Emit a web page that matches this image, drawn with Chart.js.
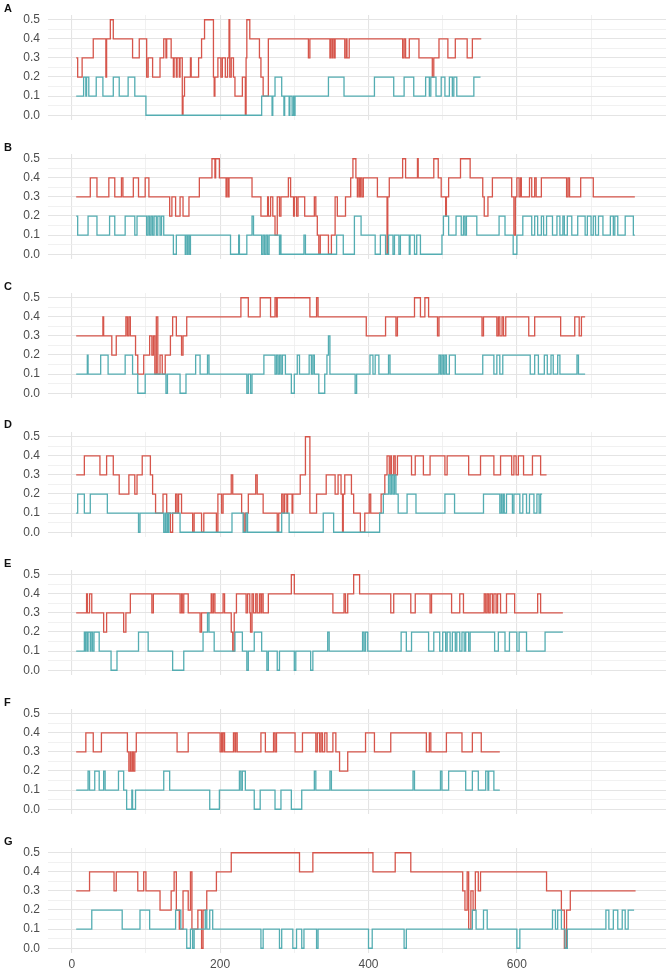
<!DOCTYPE html>
<html><head><meta charset="utf-8">
<script src="https://cdn.jsdelivr.net/npm/chart.js@4.4.1/dist/chart.umd.min.js"></script>
<style>
html,body{margin:0;padding:0;background:#fff;}
body{width:666px;height:974px;overflow:hidden;position:relative;font-family:"Liberation Sans",Arial,sans-serif;}
canvas{position:absolute;left:0;}
.lbl{position:absolute;left:4px;font-weight:bold;font-size:11px;color:#111;}
</style></head><body>
<script>
// ---------------- data (x where a level starts, level); last pair marks the end ----------------
const panelNames = ['A','B','C','D','E','F','G'];
const xTickValues = [0,100,200,300,400,500,600,700];
const xTickLabels = {0:'0',200:'200',400:'400',600:'600'};
const yTickValues = [0,0.05,0.1,0.15,0.2,0.25,0.3,0.35,0.4,0.45,0.5];
const yTickLabels = {0:'0.0',0.1:'0.1',0.2:'0.2',0.3:'0.3',0.4:'0.4',0.5:'0.5'};

const A_red = [[6,.3],[8,.2],[14,.3],[29,.4],[46,.2],[47,.4],[52,.5],[56,.4],[82,.3],[91,.4],[101,.2],[103,.3],[109,.2],[119,.3],[124,.4],[127,.3],[128,.4],[134,.3],[137,.2],[138,.3],[141,.2],[142,.3],[145,.2],[146,.3],[149,0],[150,.1],[152,.2],[160,.3],[161,.2],[171,.3],[175,.4],[179,.5],[191,.2],[192,.1],[193,.2],[197,.3],[201,.2],[203,.3],[207,.2],[210,.3],[212,.5],[213,.2],[215,.3],[218,.2],[220,.1],[230,.2],[234,0],[235,.3],[236,.5],[240,.4],[253,.3],[255,.2],[258,.1],[265,.4],[319,.3],[321,.4],[348,.3],[349,.4],[351,.3],[352,.4],[354,.3],[355,.4],[368,.3],[370,.4],[371,.3],[374,.4],[446,.3],[448,.4],[450,.3],[455,.4],[468,.3],[486,.2],[488,.3],[495,.4],[507,.3],[517,.4],[533,.3],[540,.4],[552,.4]];
const A_teal = [[6,.1],[16,.2],[19,.1],[20,.2],[23,.1],[33,.2],[42,.1],[56,.2],[64,.1],[76,.2],[85,.1],[100,0],[256,.1],[270,0],[271,.1],[274,.2],[283,.1],[286,0],[287,.1],[293,0],[294,.1],[297,0],[299,.1],[300,0],[301,.1],[346,.2],[367,.1],[408,.2],[434,.1],[448,.2],[461,.1],[477,.2],[482,.1],[484,.2],[491,.1],[498,.2],[503,.1],[509,.2],[513,.1],[515,.2],[519,.1],[542,.2],[551,.2]];

const B_red = [[6,.3],[25,.4],[34,.3],[50,.4],[58,.3],[67,.4],[69,.3],[83,.4],[90,.3],[99,.4],[104,.3],[132,.2],[135,.3],[140,.2],[146,.3],[150,.2],[158,.3],[172,.4],[189,.5],[193,.4],[194,.5],[199,.4],[208,.3],[209,.4],[211,.3],[212,.4],[243,.3],[255,.2],[264,.3],[265,.2],[268,.3],[271,.2],[274,.1],[277,.3],[280,.2],[282,.3],[292,.4],[295,.3],[299,.2],[300,.3],[303,.2],[305,.3],[314,.2],[327,.3],[329,.2],[331,.1],[333,0],[335,.1],[346,0],[350,.1],[355,.3],[358,.2],[369,.3],[376,.4],[379,.5],[383,.4],[385,.3],[386,.4],[388,.3],[389,.4],[391,.3],[393,.4],[412,.3],[425,0],[426,.3],[428,.4],[446,.5],[450,.4],[466,.5],[467,.4],[488,.5],[494,.4],[498,.3],[504,.2],[505,.3],[508,.4],[524,.5],[537,.4],[554,.3],[556,.2],[561,.3],[567,.4],[593,.3],[596,.1],[598,.3],[600,.4],[603,.3],[605,.4],[606,.3],[617,.4],[620,.3],[624,.4],[626,.3],[633,.4],[667,.3],[669,.4],[671,.3],[686,.4],[703,.3],[759,.3]];
const B_teal = [[6,.2],[8,.1],[22,.2],[34,.1],[51,.2],[58,.1],[72,.2],[85,.1],[88,.2],[101,.1],[103,.2],[105,.1],[107,.2],[109,.1],[111,.2],[114,.1],[116,.2],[119,.1],[121,.2],[124,.1],[137,0],[141,.1],[153,0],[154,.1],[156,0],[157,.1],[159,0],[160,.1],[214,0],[225,.1],[226,0],[236,.1],[243,.2],[245,.1],[256,0],[258,.1],[260,0],[262,.1],[264,0],[266,.1],[280,0],[281,.1],[282,0],[313,.1],[315,0],[357,.1],[366,0],[381,.2],[390,.1],[409,0],[416,.1],[423,0],[427,.1],[433,0],[435,.1],[441,0],[443,.1],[455,0],[456,.1],[462,0],[465,.1],[470,0],[499,.1],[501,.2],[508,.1],[518,.2],[525,.1],[528,.2],[530,.1],[532,.2],[546,.1],[576,.2],[584,.1],[595,0],[600,.1],[608,.2],[620,.1],[624,.2],[628,.1],[633,.2],[636,.1],[640,.2],[648,.1],[654,.2],[658,.1],[662,.2],[664,.1],[668,.2],[674,.1],[682,.2],[692,.1],[695,.2],[700,.1],[703,.2],[706,.1],[710,.2],[716,.1],[726,.2],[730,.1],[732,.2],[736,.1],[746,.2],[757,.1],[759,.1]];

const C_red = [[6,.3],[42,.4],[43,.3],[54,.2],[60,.3],[73,.4],[75,.3],[77,.4],[79,.3],[86,.2],[89,.1],[97,.2],[105,.3],[108,.2],[110,.3],[112,.1],[114,.4],[116,.1],[119,.2],[122,.1],[126,.2],[133,.3],[136,.4],[141,.3],[148,.2],[150,.3],[155,.4],[228,.5],[238,.4],[254,.5],[268,.4],[274,.5],[276,.4],[277,.5],[321,.4],[330,.5],[332,.4],[397,.3],[423,.4],[437,.3],[439,.4],[462,.5],[470,.4],[476,.5],[481,.4],[493,.3],[495,.4],[553,.3],[555,.4],[573,.3],[575,.4],[577,.3],[580,.4],[582,.3],[585,.4],[616,.3],[624,.4],[659,.3],[678,.4],[684,.3],[687,.4],[692,.4]];
const C_teal = [[6,.1],[21,.2],[22,.1],[39,.2],[49,.1],[72,.2],[82,.1],[89,0],[99,.1],[127,0],[129,.1],[146,0],[154,.1],[167,.2],[173,.1],[183,.2],[185,.1],[236,0],[238,.1],[241,0],[243,.1],[259,.2],[274,.1],[276,.2],[278,.1],[280,.2],[282,.1],[284,.2],[288,.1],[296,0],[300,.1],[304,.2],[307,.1],[320,.2],[323,.1],[325,.2],[327,.1],[333,0],[341,.1],[344,.2],[346,.3],[348,.1],[382,0],[384,.1],[402,.2],[406,.1],[409,.2],[414,.1],[427,.2],[429,.1],[495,.2],[497,.1],[499,.2],[501,.1],[503,.2],[505,.1],[509,.2],[517,.1],[554,.2],[569,.1],[573,.2],[577,.1],[581,.2],[618,.1],[624,.2],[629,.1],[637,.2],[641,.1],[646,.2],[649,.1],[655,.2],[658,.1],[681,.2],[683,.1],[692,.1]];

const D_red = [[6,.3],[17,.4],[38,.3],[47,.4],[56,.3],[64,.2],[77,.3],[85,.2],[88,.3],[95,.4],[106,.3],[109,.2],[113,.1],[123,.2],[128,.1],[133,0],[136,.1],[140,.2],[142,.1],[144,.2],[148,.1],[163,0],[165,.1],[175,0],[178,.1],[195,0],[197,.2],[202,.1],[204,.2],[215,.3],[217,.2],[229,.1],[232,0],[234,.1],[238,.2],[248,.3],[250,.2],[258,.1],[277,0],[279,.1],[283,.2],[285,.1],[287,.2],[290,.1],[291,.2],[297,.1],[298,.2],[308,.3],[315,.5],[321,.1],[330,.2],[343,.3],[355,.2],[359,.3],[363,.2],[365,0],[366,.2],[368,.3],[377,.2],[380,.1],[389,0],[395,.1],[401,.2],[403,.1],[417,.2],[422,.3],[425,.4],[428,.3],[430,.4],[431,.3],[434,.4],[436,.3],[439,.4],[458,.3],[463,.4],[474,.3],[483,.4],[503,.3],[506,.4],[535,.3],[551,.4],[569,.3],[578,.4],[593,.3],[596,.4],[599,.3],[602,.4],[609,.3],[621,.4],[632,.3],[640,.3]];
const D_teal = [[6,.1],[8,.2],[17,.1],[25,.2],[48,.1],[90,0],[92,.1],[124,0],[126,.1],[127,0],[129,.1],[130,0],[131,.1],[146,0],[216,.1],[231,0],[235,.1],[237,0],[283,.1],[293,0],[339,.1],[353,0],[415,.1],[420,.2],[427,.3],[429,.2],[431,.3],[433,.2],[435,.3],[437,.2],[440,.1],[452,.2],[464,.1],[503,.2],[516,.1],[555,.2],[577,.1],[579,.2],[580,.1],[582,.2],[583,.1],[586,.2],[594,.1],[596,.2],[604,.1],[608,.2],[613,.1],[617,.2],[623,.1],[627,.2],[630,.1],[632,.2],[634,.2]];

const E_red = [[6,.3],[20,.4],[21,.3],[24,.4],[27,.3],[43,.2],[47,.3],[70,.2],[73,.3],[79,.4],[108,.3],[110,.4],[146,.3],[148,.4],[149,.3],[151,.4],[157,.3],[173,.2],[175,.3],[188,.4],[189,.3],[191,.4],[193,.3],[204,.4],[206,.3],[215,.2],[217,.1],[219,.3],[222,.4],[235,.3],[237,.4],[240,.3],[241,.2],[243,.4],[245,.3],[248,.4],[250,.3],[253,.4],[255,.3],[256,.4],[258,.3],[265,.4],[296,.5],[300,.4],[352,.3],[367,.4],[369,.3],[372,.4],[380,.5],[388,.4],[430,.3],[434,.4],[457,.3],[463,.4],[483,.3],[485,.4],[512,.3],[523,.4],[528,.3],[556,.4],[558,.3],[560,.4],[562,.3],[564,.4],[567,.3],[569,.4],[572,.3],[574,.4],[578,.3],[586,.4],[597,.3],[628,.4],[632,.3],[662,.3]];
const E_teal = [[6,.1],[17,.2],[18,.1],[19,.2],[21,.1],[22,.2],[25,.1],[26,.2],[28,.1],[30,.2],[37,.1],[53,0],[61,.1],[90,.2],[103,.1],[136,0],[151,.1],[177,.2],[183,.3],[185,.2],[192,.1],[220,.2],[230,.1],[236,0],[238,.1],[246,.2],[256,.1],[263,0],[265,.1],[277,0],[280,.1],[300,0],[302,.1],[322,0],[325,.1],[345,.2],[347,.1],[392,.2],[394,.1],[396,.2],[399,.1],[444,.2],[451,.1],[458,.2],[481,.1],[488,.2],[496,.1],[500,.2],[504,.1],[506,.2],[510,.1],[513,.2],[517,.1],[519,.2],[523,.1],[526,.2],[529,.1],[531,.2],[535,.1],[537,.2],[570,.1],[575,.2],[584,.1],[590,.2],[600,.1],[603,.2],[613,.1],[638,.2],[662,.2]];

const F_red = [[6,.3],[19,.4],[29,.3],[40,.4],[75,.3],[77,.2],[79,.3],[80,.2],[82,.3],[83,.2],[85,.3],[87,.4],[142,.3],[157,.4],[200,.3],[202,.4],[203,.3],[204,.4],[206,.3],[218,.4],[220,.3],[221,.4],[223,.3],[255,.4],[261,.3],[272,.4],[274,.3],[276,.4],[301,.3],[311,.4],[329,.3],[331,.4],[334,.3],[336,.4],[338,.3],[341,.4],[344,.3],[352,.4],[356,.3],[361,.2],[372,.3],[396,.4],[408,.3],[430,.4],[478,.3],[482,.4],[484,.3],[505,.4],[526,.3],[540,.4],[552,.3],[577,.3]];
const F_teal = [[6,.1],[22,.2],[24,.1],[31,.2],[37,.1],[43,.2],[45,.1],[63,.2],[70,.1],[74,0],[81,.1],[82,0],[86,.1],[124,.2],[132,.1],[186,0],[199,.1],[226,.2],[228,.1],[230,.2],[234,.1],[246,0],[254,.1],[274,0],[282,.1],[296,0],[310,.1],[327,.2],[329,.1],[348,.2],[350,.1],[460,.2],[462,.1],[497,.2],[499,.1],[508,.2],[531,.1],[540,.2],[548,.1],[558,.2],[561,.1],[562,.2],[569,.1],[577,.1]];

const G_red = [[6,.3],[24,.4],[57,.3],[60,.4],[89,.3],[97,.4],[100,.3],[119,.2],[134,.3],[138,.4],[141,.2],[145,.1],[150,.3],[157,.2],[160,.4],[162,.1],[170,.2],[175,0],[177,.2],[182,.3],[195,.4],[215,.5],[307,.4],[325,.5],[406,.4],[436,.5],[457,.4],[527,.3],[530,.2],[533,.4],[535,.1],[538,.3],[541,.2],[544,.4],[548,.3],[551,.4],[640,.3],[660,.2],[664,0],[667,.2],[672,.3],[760,.3]];
const G_teal = [[6,.1],[27,.2],[68,.1],[92,.2],[105,.1],[140,.2],[147,.1],[155,0],[160,.1],[163,0],[165,.1],[180,.2],[182,.1],[186,.2],[190,.1],[255,0],[258,.1],[280,0],[283,.1],[298,0],[303,.1],[310,0],[313,.1],[330,0],[332,.1],[400,0],[405,.1],[448,0],[451,.1],[540,.2],[545,.1],[555,.2],[560,.1],[600,0],[604,.1],[648,.2],[652,.1],[655,.2],[660,.1],[665,0],[668,.1],[720,.2],[724,.1],[730,.2],[736,.1],[742,.2],[746,.1],[750,.2],[758,.2]];

const seriesRed  = [A_red, B_red, C_red, D_red, E_red, F_red, G_red];
const seriesTeal = [A_teal, B_teal, C_teal, D_teal, E_teal, F_teal, G_teal];

// ---------------- layout / style ----------------
const RED = '#d6554b', TEAL = '#54adb2';
const X_MIN = -32, X_MAX = 801;
const Y_MIN = -0.025, Y_MAX = 0.525;
const PANEL_TOP0 = 20, PANEL_STEP = 138.8, PX_PER_TENTH = 19;
const CHART_H = (Y_MAX - Y_MIN) * 10 * PX_PER_TENTH;
const PAD = 10;
const isMajorY = v => Math.abs(v * 10 - Math.round(v * 10)) < 1e-6;
const FONT = '"Liberation Sans", Arial, sans-serif';

panelNames.forEach((name, i) => {
  const y05 = PANEL_TOP0 + PANEL_STEP * i;
  const chartTop = y05 - 0.025 * 10 * PX_PER_TENTH;
  const last = i === panelNames.length - 1;
  const xAxisH = last ? 22 : 0;
  const cv = document.createElement('canvas');
  const h = Math.round(CHART_H + PAD + (last ? xAxisH : PAD));
  cv.width = 666; cv.height = h;
  cv.style.top = (chartTop - PAD) + 'px';
  cv.style.width = '666px'; cv.style.height = h + 'px';
  document.body.appendChild(cv);
  const lbl = document.createElement('div');
  lbl.className = 'lbl'; lbl.textContent = name;
  lbl.style.top = (y05 - 18) + 'px';
  document.body.appendChild(lbl);

  const toPts = arr => arr.map(([x, y]) => ({x, y}));
  const chart = new Chart(cv, {
    type: 'line',
    data: {
      datasets: [
        {data: toPts(seriesTeal[i]), borderColor: TEAL, borderWidth: 1.3, pointRadius: 0, stepped: true, fill: false},
        {data: toPts(seriesRed[i]), borderColor: RED, borderWidth: 1.3, pointRadius: 0, stepped: true, fill: false}
      ]
    },
    options: {
      responsive: false, maintainAspectRatio: false, animation: false, devicePixelRatio: 1,
      layout: {padding: {top: PAD, bottom: last ? 0 : PAD, left: 0, right: 0}},
      plugins: {legend: {display: false}, tooltip: {enabled: false}},
      scales: {
        x: {
          type: 'linear', min: X_MIN, max: X_MAX,
          afterBuildTicks: s => { s.ticks = xTickValues.map(v => ({value: v})); },
          afterFit: s => { s.height = xAxisH; s.paddingLeft = 0; s.paddingRight = 0; },
          border: {display: false},
          grid: {
            drawTicks: false,
            color: c => (c.tick && c.tick.value % 200 === 0) ? '#e4e4e4' : '#eeeeee',
            lineWidth: c => (c.tick && c.tick.value % 200 === 0) ? 1.1 : 0.8
          },
          ticks: {
            display: last, autoSkip: false, maxRotation: 0, padding: 4,
            color: '#4d4d4d', font: {size: 12, family: FONT},
            callback: v => xTickLabels[v] !== undefined ? xTickLabels[v] : ''
          }
        },
        y: {
          type: 'linear', min: Y_MIN, max: Y_MAX,
          afterBuildTicks: s => { s.ticks = yTickValues.map(v => ({value: v})); },
          afterFit: s => { s.width = 48; s.paddingTop = 0; s.paddingBottom = 0; },
          border: {display: false},
          grid: {
            drawTicks: false,
            color: c => (c.tick && isMajorY(c.tick.value)) ? '#e4e4e4' : '#eeeeee',
            lineWidth: c => (c.tick && isMajorY(c.tick.value)) ? 1.1 : 0.8
          },
          ticks: {
            autoSkip: false, padding: 8, color: '#4d4d4d',
            font: {size: 12, family: FONT},
            callback: v => {
              const k = Math.round(v * 100) / 100;
              return isMajorY(v) ? yTickLabels[k] : '';
            }
          }
        }
      }
    }
  });
  // correct canvas size/position so the plotting area has the intended height and place
  let ca = chart.chartArea;
  const dh = CHART_H - (ca.bottom - ca.top);
  if (Math.abs(dh) > 0.5) {
    chart.resize(666, Math.round(h + dh));
    ca = chart.chartArea;
  }
  cv.style.top = (chartTop - ca.top) + 'px';
});
</script>
</body></html>
